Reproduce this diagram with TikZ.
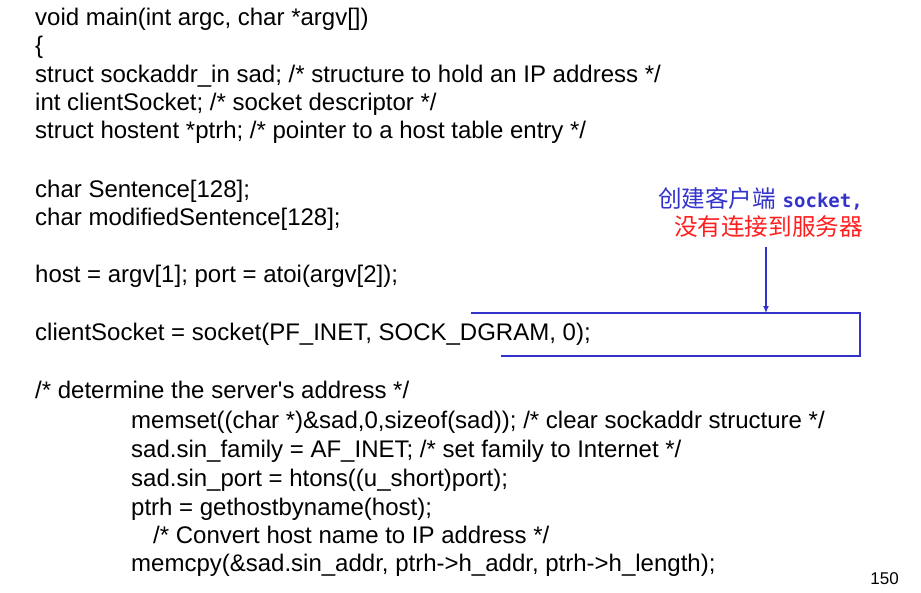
\documentclass[tikz,border=0pt]{standalone}
\usepackage{fontspec}
\setmainfont{Liberation Sans}
\newfontfamily\cjk{Noto Sans CJK SC}
\newfontfamily\monob{DejaVu Sans Mono}
\usetikzlibrary{arrows.meta}
\definecolor{annblue}{RGB}{51,51,204}
\definecolor{annred}{RGB}{255,30,30}
\tikzset{
  code/.style={anchor=base west, inner sep=0pt, font=\fontsize{24}{28}\selectfont, text=black},
  boxline/.style={draw=annblue, line width=2pt},
  arr/.style={draw=annblue, line width=2pt, -{Latex[length=7pt,width=6pt]}},
}
\begin{document}
\begin{tikzpicture}[x=1pt,y=-1pt]
\useasboundingbox (0,0) rectangle (921,592);
\node[code] (l1) at (35,25) {void main(int argc, char *argv[])};
\node[code] (l2) at (35,53) {\{};
\node[code] (l3) at (35,82) {struct sockaddr\_in sad; /* structure to hold an IP address */};
\node[code] (l4) at (35,110) {int clientSocket; /* socket descriptor */};
\node[code] (l5) at (35,138) {struct hostent *ptrh; /* pointer to a host table entry */};
\node[code] (l7) at (35,197) {char Sentence[128];};
\node[code] (l8) at (35,225) {char modifiedSentence[128];};
\node[code] (l10) at (35,282) {host = argv[1]; port = atoi(argv[2]);};
\node[code] (l12) at (35,340) {clientSocket = socket(PF\_INET, SOCK\_DGRAM, 0);};
\node[code] (l14) at (35,398) {/* determine the server\textquotesingle s address */};
\node[code] (l15) at (131,428) {memset((char *)\&sad,0,sizeof(sad)); /* clear sockaddr structure */};
\node[code] (l16) at (131,457) {sad.sin\_family = AF\_INET; /* set family to Internet */};
\node[code] (l17) at (131,486) {sad.sin\_port = htons((u\_short)port);};
\node[code] (l18) at (131,515) {ptrh = gethostbyname(host);};
\node[code] (l19) at (153,543) {/* Convert host name to IP address */};
\node[code] (l20) at (131,571) {memcpy(\&sad.sin\_addr, ptrh->h\_addr, ptrh->h\_length);};
\node[anchor=base east, inner sep=0pt, font=\fontsize{17}{20}\selectfont] (pg) at (899,584) {150};
% annotation
\node[anchor=north east, inner sep=0pt, align=right, font=\fontsize{23.6}{28}\selectfont] (ann) at (863,187)
  {{\cjk\color{annblue}创建客户端} {\monob\bfseries\fontsize{19}{28}\selectfont\color{annblue}socket,}\\
   {\cjk\color{annred}没有连接到服务器}};
% box around socket call
\coordinate (tl) at (472,313);
\coordinate (tr) at (860,313);
\coordinate (br) at (860,356);
\coordinate (bl) at (502,356);
\coordinate (tip) at (766,313);
\draw[boxline, line cap=rect] (tl) -- (tr) -- (br) -- (bl);
\draw[arr] (tip |- 0,247) -- (tip);
\end{tikzpicture}
\end{document}
